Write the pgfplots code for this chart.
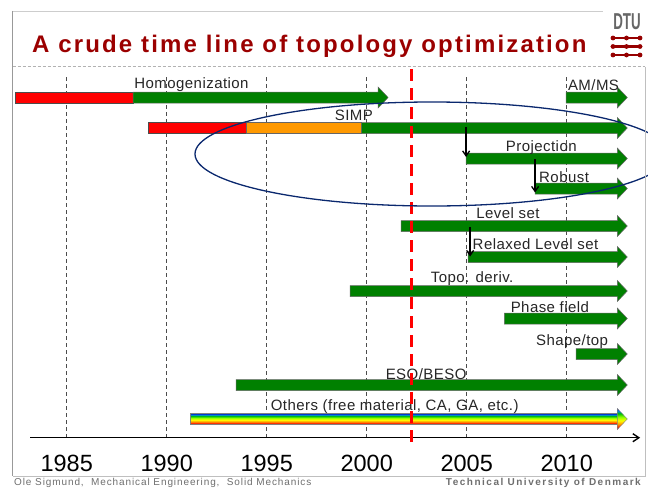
\documentclass[border=0pt]{standalone}
\usepackage{pgfplots}
\pgfplotsset{compat=1.18}
\usepackage{fontspec}
\setmainfont{Liberation Sans}
\newfontfamily\titlefam[LetterSpace=9]{Liberation Sans}
\newfontfamily\lblfam[LetterSpace=3]{Liberation Sans}
\newfontfamily\footfam[LetterSpace=9]{Liberation Sans}
\newfontfamily\footbfam[LetterSpace=15]{Liberation Sans}
\usetikzlibrary{arrows.meta}
\definecolor{barGreen}{RGB}{0,128,0}
\definecolor{barRed}{RGB}{255,0,0}
\definecolor{barOrange}{RGB}{255,153,0}
\definecolor{titleRed}{RGB}{155,0,0}
\definecolor{ellBlue}{RGB}{10,40,110}
\definecolor{frameGray}{RGB}{205,205,205}
\definecolor{footGray}{RGB}{110,110,110}
\pgfdeclareverticalshading{rainbowbar}{100bp}{color(0bp)=(red!80!black); color(25bp)=(red!80!black); color(29bp)=(red); color(36bp)=(orange); color(46bp)=(yellow); color(55bp)=(yellow!55!green); color(63bp)=(green!75!black); color(70bp)=(cyan!50!blue); color(75bp)=(blue!70!black); color(100bp)=(blue!70!black)}
\begin{document}
\begin{tikzpicture}[x=1pt,y=1pt]
\begin{axis}[at={(0,0)},anchor=south west,scale only axis,
  width=648pt,height=490pt,
  xmin=1981.665,xmax=2014.065,ymin=0,ymax=490,y dir=reverse,
  hide axis,clip=false]
% gridlines and year labels
\pgfplotsinvokeforeach{1985,1990,1995,2000,2005,2010}{
  \addplot[draw=black!70,line width=0.6pt,dash pattern=on 4pt off 3pt] coordinates {(#1,77) (#1,437)};
  \node[anchor=base,inner sep=0pt,font=\fontsize{23.5}{23.5}\selectfont] at (axis cs:#1,471.5) {#1};
}
% time axis
\draw[black,line width=1.4pt,-{Straight Barb[length=6pt,width=8pt]}] (axis cs:1983.17,437.7) -- (axis cs:2013.67,437.7);
% Homogenization
\addplot[fill=barRed,draw=black!70,line width=0.5pt] coordinates {(1982.42,92) (1988.32,92) (1988.32,103) (1982.42,103)} --cycle;
\addplot[fill=barGreen,draw=black!60,line width=0.5pt] coordinates {(1988.32,92) (2000.57,92) (2000.57,87) (2001.07,97.5) (2000.57,108) (2000.57,103) (1988.32,103)} --cycle;
% AM/MS
\addplot[fill=barGreen,draw=black!60,line width=0.5pt] coordinates {(2009.97,92) (2012.53,92) (2012.53,87) (2013.03,97.5) (2012.53,108) (2012.53,103) (2009.97,103)} --cycle;
% SIMP
\addplot[fill=barRed,draw=black!70,line width=0.5pt] coordinates {(1989.08,122.5) (1994.0,122.5) (1994.0,133.5) (1989.08,133.5)} --cycle;
\addplot[fill=barOrange,draw=black!60,line width=0.5pt] coordinates {(1994.0,122.5) (1999.75,122.5) (1999.75,133.5) (1994.0,133.5)} --cycle;
\addplot[fill=barGreen,draw=black!60,line width=0.5pt] coordinates {(1999.75,122.5) (2012.53,122.5) (2012.53,117.5) (2013.03,128) (2012.53,138.5) (2012.53,133.5) (1999.75,133.5)} --cycle;
% Projection
\addplot[fill=barGreen,draw=black!60,line width=0.5pt] coordinates {(2004.97,153) (2012.53,153) (2012.53,148) (2013.03,158.5) (2012.53,169) (2012.53,164) (2004.97,164)} --cycle;
% Robust
\addplot[fill=barGreen,draw=black!60,line width=0.5pt] coordinates {(2008.42,183) (2012.53,183) (2012.53,178) (2013.03,188.5) (2012.53,199) (2012.53,194) (2008.42,194)} --cycle;
% Level set
\addplot[fill=barGreen,draw=black!60,line width=0.5pt] coordinates {(2001.72,220.5) (2012.53,220.5) (2012.53,215.5) (2013.03,226) (2012.53,236.5) (2012.53,231.5) (2001.72,231.5)} --cycle;
% Relaxed Level set
\addplot[fill=barGreen,draw=black!60,line width=0.5pt] coordinates {(2005.07,251.5) (2012.53,251.5) (2012.53,246.5) (2013.03,257) (2012.53,267.5) (2012.53,262.5) (2005.07,262.5)} --cycle;
% Topo. deriv.
\addplot[fill=barGreen,draw=black!60,line width=0.5pt] coordinates {(1999.17,285.5) (2012.53,285.5) (2012.53,280.5) (2013.03,291) (2012.53,301.5) (2012.53,296.5) (1999.17,296.5)} --cycle;
% Phase field
\addplot[fill=barGreen,draw=black!60,line width=0.5pt] coordinates {(2006.88,313) (2012.53,313) (2012.53,308) (2013.03,318.5) (2012.53,329) (2012.53,324) (2006.88,324)} --cycle;
% Shape/top
\addplot[fill=barGreen,draw=black!60,line width=0.5pt] coordinates {(2010.47,348.5) (2012.53,348.5) (2012.53,343.5) (2013.03,354) (2012.53,364.5) (2012.53,359.5) (2010.47,359.5)} --cycle;
% ESO/BESO
\addplot[fill=barGreen,draw=black!60,line width=0.5pt] coordinates {(1993.47,379.5) (2012.53,379.5) (2012.53,374.5) (2013.03,385) (2012.53,395.5) (2012.53,390.5) (1993.47,390.5)} --cycle;
% Others (rainbow)
\addplot[shade,shading=rainbowbar,draw=black!50,line width=0.4pt] coordinates {(1991.17,413.5) (2012.53,413.5) (2012.53,424.5) (1991.17,424.5)} --cycle;
\addplot[shade,shading=rainbowbar,draw=black!50,line width=0.4pt] coordinates {(2012.53,408.5) (2013.03,419) (2012.53,429.5)} --cycle;
% labels
\begin{scope}[every node/.style={anchor=base,inner sep=0pt,text=black!85,font=\lblfam\fontsize{15}{15}\selectfont}]
\node at (axis cs:1991.24,88.3) {Homogenization};
\node at (axis cs:2011.34,90.7) {AM/MS};
\node at (axis cs:1999.36,120) {SIMP};
\node at (axis cs:2008.73,151.7) {Projection};
\node at (axis cs:2009.87,182.3) {Robust};
\node at (axis cs:2007.06,218.3) {Level set};
\node at (axis cs:2008.44,249.3) {Relaxed Level set};
\node at (axis cs:2005.27,282.7) {Topo. deriv.};
\node at (axis cs:2009.16,312.3) {Phase field};
\node at (axis cs:2010.27,345) {Shape/top};
\node at (axis cs:2002.97,379.3) {ESO/BESO};
\node at (axis cs:2001.4,410.7) {Others (free material, CA, GA, etc.)};
\end{scope}
% down arrows
\draw[black,line width=1.3pt,-{Straight Barb[length=5pt,width=7pt]}] (axis cs:2004.97,127.3) -- (axis cs:2004.97,157);
\draw[black,line width=1.3pt,-{Straight Barb[length=5pt,width=7pt]}] (axis cs:2008.42,159) -- (axis cs:2008.42,192.5);
\draw[black,line width=1.3pt,-{Straight Barb[length=5pt,width=7pt]}] (axis cs:2005.17,227) -- (axis cs:2005.17,256.5);
% red dashed line
\addplot[draw=red,line width=2.6pt,dash pattern=on 12pt off 7pt] coordinates {(2002.25,69) (2002.25,445)};
% ellipse
\begin{scope}
\clip (rel axis cs:0,0) rectangle (rel axis cs:1,1);
\draw[ellBlue,line width=1.3pt] (axis cs:2003.265,154) ellipse [x radius=237pt,y radius=52pt];
\end{scope}
\end{axis}
% slide frame
\draw[frameGray,line width=1.5pt] (12.7,478.3) -- (603,478.3);
\draw[black!40,line width=0.8pt] (12.7,479) -- (12.7,14);
\draw[black!30,line width=0.5pt,dash pattern=on 3pt off 2pt] (12.7,423.3) -- (645,423.3);
\draw[black!25,line width=0.6pt] (645,423.3) -- (645,14) -- (12.7,14);
% title
\node[anchor=base west,inner sep=0pt,text=titleRed,font=\titlefam\bfseries\fontsize{24}{24}\selectfont] at (32,437.7) {A crude time line of topology optimization};
% DTU logo
\node[anchor=base,inner sep=0pt,text=black!60,font=\bfseries\fontsize{23}{23}\selectfont,xscale=0.58] at (627,460) {DTU};
\definecolor{logoRed}{RGB}{150,0,0}
\foreach \yy in {452,443.5,435}{
  \draw[logoRed,line width=2.6pt,line cap=round] (612,\yy) -- (641,\yy);
  \fill[logoRed] (613,\yy) circle (2.4pt) (626.5,\yy) circle (2.4pt) (640,\yy) circle (2.4pt);
}
% footer
\node[anchor=base west,inner sep=0pt,text=footGray,font=\footfam\fontsize{10}{10}\selectfont] at (14,5) {Ole Sigmund,\ \ Mechanical Engineering,\ \ Solid Mechanics};
\node[anchor=base east,inner sep=0pt,text=footGray,font=\footbfam\bfseries\fontsize{10}{10}\selectfont] at (641,5) {Technical University of Denmark};
\pgfresetboundingbox
\useasboundingbox (0,0) rectangle (648,490);
\end{tikzpicture}
\end{document}
